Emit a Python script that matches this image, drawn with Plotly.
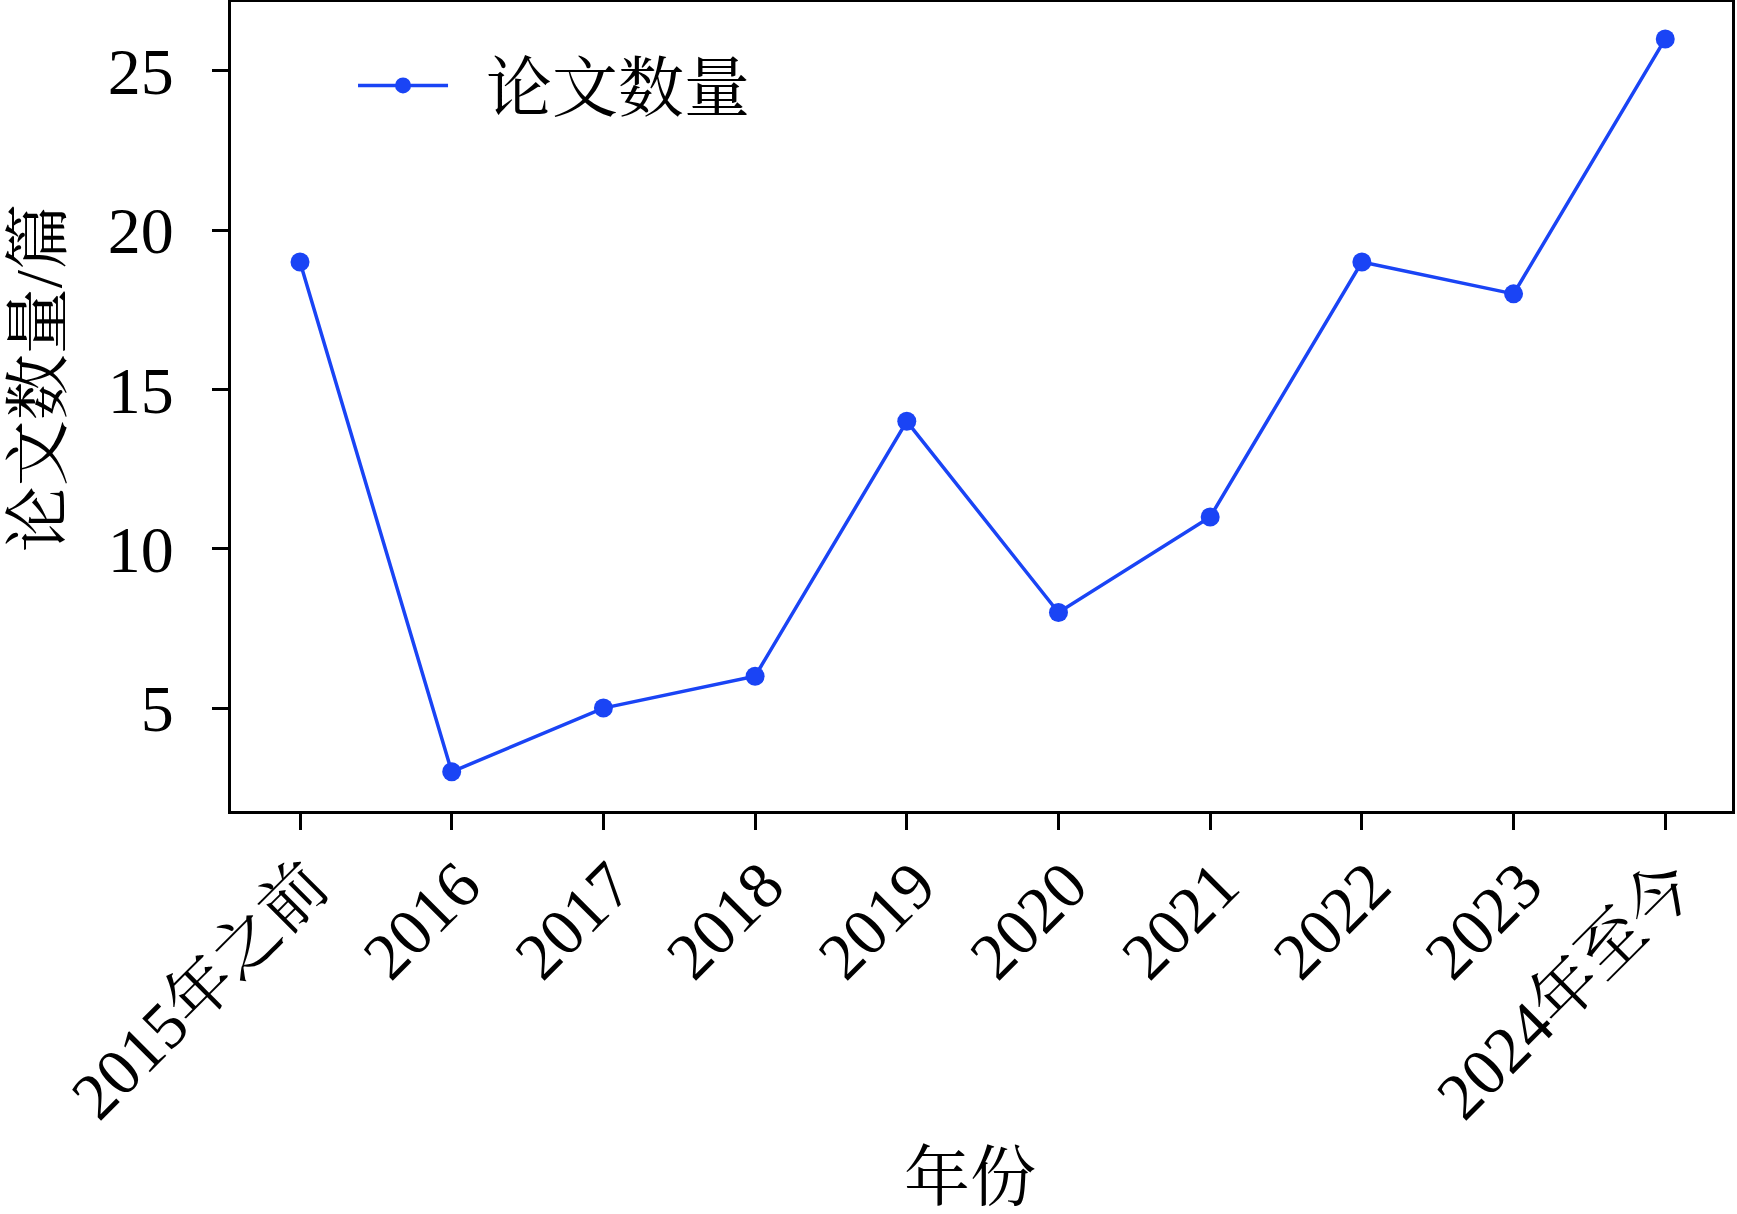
import plotly.graph_objects as go

categories = ["2015年之前", "2016", "2017", "2018", "2019", "2020", "2021", "2022", "2023", "2024年至今"]
paper_counts = [19, 3, 5, 6, 14, 8, 11, 19, 18, 26]
series_name = "论文数量"
x_title = "年份"
y_title = "论文数量/篇"
y_tickvals = [5, 10, 15, 20, 25]

FONT = "Liberation Serif, Times New Roman, Noto Serif CJK SC, Noto Sans CJK SC, serif"
BLUE = "#1a44f5"
NB = "\u00a0"

fig = go.Figure()
fig.add_trace(go.Scatter(
    x=list(range(len(categories))), y=paper_counts, name=NB * 2 + series_name,
    mode="lines+markers",
    line=dict(color=BLUE, width=3.5),
    marker=dict(color=BLUE, size=19),
))

fig.update_layout(
    width=1737, height=1214,
    margin=dict(l=231, r=5, t=2, b=403, autoexpand=False),
    paper_bgcolor="white", plot_bgcolor="white",
    font=dict(family=FONT, size=66, color="black"),
    showlegend=True,
    legend=dict(x=0.0813, y=0.958, xanchor="left", yanchor="top",
                bgcolor="rgba(0,0,0,0)", font=dict(size=66), itemwidth=90),
    xaxis=dict(
        tickmode="array", tickvals=list(range(len(categories))), ticktext=categories,
        range=[-0.455, 9.44], tickangle=-45,
        showline=True, linewidth=3, linecolor="black", mirror=True,
        ticks="outside", ticklen=16, tickwidth=3, tickcolor="black",
        showgrid=False, zeroline=False, ticklabelstandoff=-10, ticklabelshift=9,
        automargin=False,
    ),
    yaxis=dict(
        range=[1.77, 27.16], tickvals=y_tickvals,
        showline=True, linewidth=3, linecolor="black", mirror=True,
        ticks="outside", ticklen=16, tickwidth=3, tickcolor="black",
        showgrid=False, zeroline=False, ticklabelstandoff=25,
        automargin=False,
    ),
    annotations=[
        dict(text=x_title, xref="paper", yref="paper", x=0.4923, y=-0.453,
             xanchor="center", yanchor="middle", showarrow=False, font=dict(size=66)),
        dict(text=y_title, xref="paper", yref="paper", x=-0.1286, y=0.535,
             xanchor="center", yanchor="middle", showarrow=False, textangle=-90,
             font=dict(size=66)),
    ],
)

fig.write_html("out.html", config={"displayModeBar": False},
               post_script="document.body.style.margin='0px';document.body.style.overflow='hidden';")
